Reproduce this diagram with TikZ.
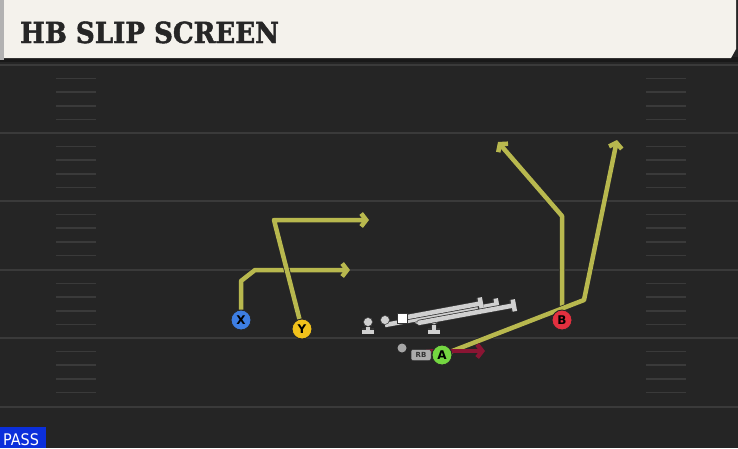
\documentclass[tikz,border=0pt]{standalone}
\usepackage{fontspec}
\usetikzlibrary{arrows.meta}
\newfontfamily\titlefont{DejaVu Serif Condensed}[BoldFeatures={FakeBold=1.6}]
\newfontfamily\tagfont{DejaVu Sans Condensed}
\newfontfamily\markfont{DejaVu Sans}
\definecolor{fieldgray}{HTML}{252525}
\definecolor{yardline}{HTML}{3A3A3A}
\definecolor{titlewhite}{HTML}{F4F2EC}
\definecolor{routeyellow}{HTML}{B8B84E}
\definecolor{blockred}{HTML}{8A1533}
\definecolor{xblue}{HTML}{3D7EE3}
\definecolor{yyellow}{HTML}{F2C21B}
\definecolor{bred}{HTML}{E2303F}
\definecolor{agreen}{HTML}{74D641}
\definecolor{linegray}{HTML}{D0D0D0}
\definecolor{passblue}{HTML}{0B2FDB}
\tikzset{
  player/.style={circle,draw=black!85,line width=0.9pt,minimum size=20pt,inner sep=0pt,
    font=\markfont\bfseries\fontsize{12}{12}\selectfont},
  lineman/.style={circle,fill=linegray,draw=black!80,line width=0.5pt,minimum size=9pt,inner sep=0pt},
  route/.style={draw=routeyellow,line width=4.5pt,line join=round,
    preaction={draw=black!85,line width=6pt},-{Straight Barb[length=5pt,width=13pt]}},
  block/.style={draw=linegray,line width=4.5pt,preaction={draw=black!80,line width=6pt},-{Bar[width=12pt]}}
}
\begin{document}
\begin{tikzpicture}[x=1pt,y=-1pt]
\useasboundingbox (0,0) rectangle (738,448);
% field
\fill[fieldgray] (0,0) rectangle (738,448);
\foreach \y in {65,133,201,270,338,407}
  \draw[yardline,line width=2pt] (0,\y) -- (738,\y);
\foreach \y in {65,133,201,270,338}
  \foreach \k in {1,...,4} {
    \draw[yardline,line width=1.5pt] (56,\y+13.6*\k) -- (96,\y+13.6*\k);
    \draw[yardline,line width=1.5pt] (646,\y+13.6*\k) -- (686,\y+13.6*\k);
  }
% title bar
\fill[black!90] (0,57) rectangle (738,62);
\fill[gray!60] (0,0) rectangle (4,60);
\fill[titlewhite] (4,0) -- (736,0) -- (736,49) -- (731,58) -- (4,58) -- cycle;
\node[anchor=base west,inner sep=0pt,text=black!85,font=\titlefont\bfseries\fontsize{29}{29}\selectfont] (title) at (20,43) {HB SLIP SCREEN};

% players
\node[player,fill=xblue] (X) at (241,320) {X};
\node[player,fill=yyellow] (Y) at (302,329) {Y};
\node[player,fill=bred] (B) at (562,320) {B};
\coordinate (x1) at (241,281);
\coordinate (x2) at (255,270);
\coordinate (xe) at (350,270);
\coordinate (y1) at (274,220);
\coordinate (ye) at (369,220);
\coordinate (b1) at (562,216);
\coordinate (be) at (498,142);
\coordinate (a1) at (584,300);
\coordinate (ae) at (617,140);
\coordinate (re) at (485,351);
\coordinate (rs) at (426,351);
\path[route] (X) -- (x1) -- (x2) -- (xe);
\path[route] (Y) -- (y1) -- (ye);
\path[route] (B) -- (b1) -- (be);
\path[route] (442,355) -- (a1) -- (ae);
\node[player,fill=bred] at (B) {B};

% line
\node[lineman] (LT) at (368,322) {};
\node[lineman] (LG) at (385,320) {};
\node[lineman] (RG) at (418,320) {};
\node[lineman] (RT) at (434,320) {};
\node[fill=white,draw=black!80,line width=0.5pt,minimum size=10pt,inner sep=0pt] (C) at (402,318) {};
\coordinate (lt1) at (368,334);
\coordinate (rt1) at (434,334);
\coordinate (lg1) at (499,304);
\coordinate (c1) at (483,303);
\coordinate (rg1) at (516,305);
\path[block] (LT) -- (lt1);
\path[block] (385,325) -- (lg1);
\path[block] (C) -- (c1);
\path[block] (418,323) -- (rg1);
\path[block] (RT) -- (rt1);
\node[lineman] at (LT) {};
\node[lineman] at (LG) {};
\node[fill=white,draw=black!80,line width=0.5pt,minimum size=10pt,inner sep=0pt] at (C) {};

% backfield
\node[circle,fill=gray!70,minimum size=9pt,inner sep=0pt] (QB) at (402,348) {};
\path[draw=blockred,line width=4.5pt,-{Straight Barb[length=5pt,width=13pt]}] (rs) -- (re);
\node[fill=gray!65,draw=black!80,line width=0.5pt,rounded corners=2pt,minimum width=20pt,minimum height=11pt,inner sep=0pt,
  font=\markfont\bfseries\fontsize{7}{7}\selectfont,text=black!80] (RB) at (421,355) {RB};
\node[player,fill=agreen] (A) at (442,355) {A};

% tag
\fill[passblue] (0,427) rectangle (46,448);
\node[anchor=base west,inner sep=0pt,text=white,font=\tagfont\fontsize{16}{16}\selectfont] (pass) at (3,445) {PASS};
\end{tikzpicture}
\end{document}
